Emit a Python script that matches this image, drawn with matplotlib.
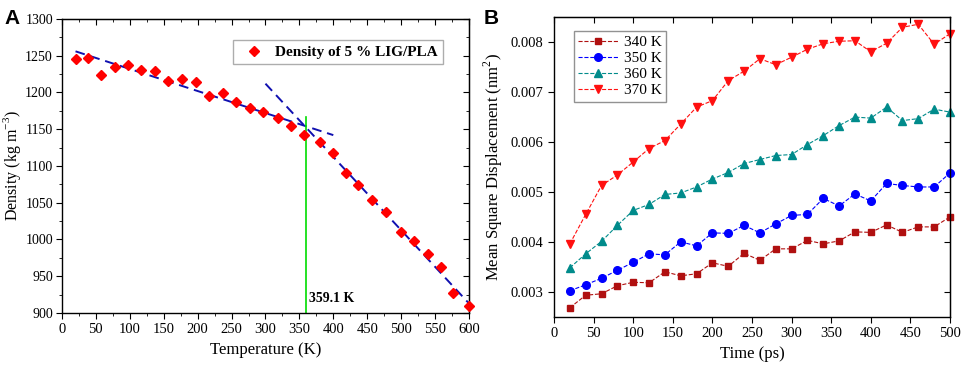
import numpy as np
import matplotlib
matplotlib.use('Agg')
import matplotlib.pyplot as plt
from matplotlib.ticker import MultipleLocator

plt.rcParams['font.family'] = ['Liberation Serif', 'DejaVu Serif']
plt.rcParams['mathtext.fontset'] = 'custom'
plt.rcParams['mathtext.rm'] = 'Liberation Serif'

# panel A: density vs temperature
temp = [20, 38, 58, 78, 97, 117, 137, 157, 177, 198, 217, 237, 257, 277, 297,
        318, 338, 357, 380, 399, 418, 437, 457, 477, 500, 519, 539, 559, 576, 600]
density = [1246, 1247, 1224, 1234, 1238, 1230, 1229, 1216, 1218, 1214, 1195, 1199,
           1187, 1179, 1173, 1165, 1154, 1142, 1132, 1118, 1091, 1074, 1054, 1037,
           1010, 998, 980, 963, 927, 910]
fit_low_x = [20, 400]
fit_low_y = [1256, 1142]
fit_high_x = [300, 600]
fit_high_y = [1212, 913]
tg = 359.1
tg_top = 1166

# panel B: MSD vs time
time_ps = list(range(20, 501, 20))
msd_340 = [0.00268, 0.00293, 0.00296, 0.00312, 0.00319, 0.00318, 0.00340, 0.00332,
           0.00336, 0.00358, 0.00351, 0.00377, 0.00363, 0.00386, 0.00386, 0.00403,
           0.00396, 0.00402, 0.00420, 0.00419, 0.00434, 0.00419, 0.00430, 0.00430, 0.00450]
msd_350 = [0.00302, 0.00314, 0.00327, 0.00343, 0.00359, 0.00376, 0.00374, 0.00400,
           0.00392, 0.00418, 0.00417, 0.00433, 0.00418, 0.00436, 0.00453, 0.00455,
           0.00487, 0.00472, 0.00496, 0.00482, 0.00517, 0.00513, 0.00510, 0.00510, 0.00538]
msd_360 = [0.00348, 0.00376, 0.00401, 0.00433, 0.00463, 0.00475, 0.00495, 0.00498,
           0.00510, 0.00526, 0.00539, 0.00557, 0.00565, 0.00573, 0.00575, 0.00595,
           0.00613, 0.00633, 0.00650, 0.00648, 0.00670, 0.00643, 0.00647, 0.00666, 0.00660]
msd_370 = [0.00396, 0.00455, 0.00513, 0.00534, 0.00560, 0.00587, 0.00603, 0.00636,
           0.00670, 0.00683, 0.00723, 0.00742, 0.00767, 0.00755, 0.00770, 0.00786,
           0.00797, 0.00802, 0.00803, 0.00781, 0.00798, 0.00830, 0.00836, 0.00796, 0.00817]
labels = ['340 K', '350 K', '360 K', '370 K']

fig = plt.figure(figsize=(9.62, 3.65), dpi=100)

ax1 = fig.add_axes([0.0644, 0.1425, 0.4231, 0.8055])
ax1.plot(fit_low_x, fit_low_y, ls=(0, (5, 3)), color='#1010b0', lw=1.4)
ax1.plot(fit_high_x, fit_high_y, ls=(0, (5, 3)), color='#1010b0', lw=1.4)
ax1.plot(temp, density, 'D', color='red', ms=5.5, ls='none',
         label='Density of 5 % LIG/PLA', clip_on=False, zorder=3)
ax1.plot([tg, tg], [900, tg_top], color='#00dd00', lw=1.2)
ax1.text(tg + 5, 915, '%.1f K' % tg, fontsize=10, fontweight='bold')
ax1.set_xlim(0, 600)
ax1.set_ylim(900, 1300)
ax1.xaxis.set_major_locator(MultipleLocator(50))
ax1.xaxis.set_minor_locator(MultipleLocator(25))
ax1.yaxis.set_major_locator(MultipleLocator(50))
ax1.yaxis.set_minor_locator(MultipleLocator(25))
ax1.set_xlabel('Temperature (K)', fontsize=12)
ax1.set_ylabel('Density (kg m$^{-3}$)', fontsize=11.5)
ax1.yaxis.set_label_coords(-0.096, 0.5)
leg = ax1.legend(loc='upper right', bbox_to_anchor=(0.955, 0.955),
                 prop={'weight': 'bold', 'size': 11}, fancybox=False,
                 handletextpad=0.4, borderpad=0.35)
leg.get_frame().set_edgecolor('#999999')
leg.get_frame().set_linewidth(1.0)

ax2 = fig.add_axes([0.5759, 0.1323, 0.4116, 0.8203])
ax2.plot(time_ps, msd_340, '--s', color='#b01010', ms=5, lw=0.8, label=labels[0], clip_on=False)
ax2.plot(time_ps, msd_350, '--o', color='#0000ff', ms=5.5, lw=0.8, label=labels[1], clip_on=False)
ax2.plot(time_ps, msd_360, '--^', color='#008b8b', ms=6, lw=0.8, label=labels[2], clip_on=False)
ax2.plot(time_ps, msd_370, '--v', color='#ff1010', ms=6, lw=0.8, label=labels[3], clip_on=False)
ax2.set_xlim(0, 500)
ax2.set_ylim(0.0025, 0.0085)
ax2.xaxis.set_major_locator(MultipleLocator(50))
ax2.yaxis.set_major_locator(MultipleLocator(0.001))
ax2.set_xlabel('Time (ps)', fontsize=12)
ax2.set_ylabel('Mean Square Displacement (nm$^{2}$)', fontsize=12, labelpad=4)
leg2 = ax2.legend(loc='upper left', bbox_to_anchor=(0.03, 0.98), fontsize=11,
                  fancybox=False, handlelength=2.6, handletextpad=0.4,
                  borderpad=0.3, labelspacing=0.15)
leg2.get_frame().set_edgecolor('#777777')
leg2.get_frame().set_linewidth(1.0)

for ax in (ax1, ax2):
    for sp in ax.spines.values():
        sp.set_linewidth(1.0)
    ax.tick_params(which='both', direction='out', labelsize=10.5, top=False, right=False)
    ax.tick_params(which='major', length=4)
    ax.tick_params(which='minor', length=2.5)
    sec = ax.secondary_xaxis('top')
    sec.tick_params(which='both', direction='in', labeltop=False)
    sec.set_xticks(ax.get_xticks())
    sec.tick_params(which='major', length=4)
    sec.set_xticklabels([])
    secy = ax.secondary_yaxis('right')
    secy.set_yticks(ax.get_yticks())
    secy.set_yticklabels([])
    secy.tick_params(which='both', direction='in', length=4)
    if ax is ax1:
        sec.xaxis.set_minor_locator(MultipleLocator(25))
        secy.yaxis.set_minor_locator(MultipleLocator(25))
        sec.tick_params(which='minor', length=2.5, direction='in')
        secy.tick_params(which='minor', length=2.5, direction='in')

ax1.tick_params(axis='y', labelsize=10, pad=2.5)
ax2.yaxis.set_major_formatter(matplotlib.ticker.FormatStrFormatter('%.3f'))

fig.text(0.005, 0.975, 'A', fontsize=15, fontweight='bold', family='Liberation Sans', va='top')
fig.text(0.503, 0.975, 'B', fontsize=15, fontweight='bold', family='Liberation Sans', va='top')

fig.savefig('out.png', dpi=100)
